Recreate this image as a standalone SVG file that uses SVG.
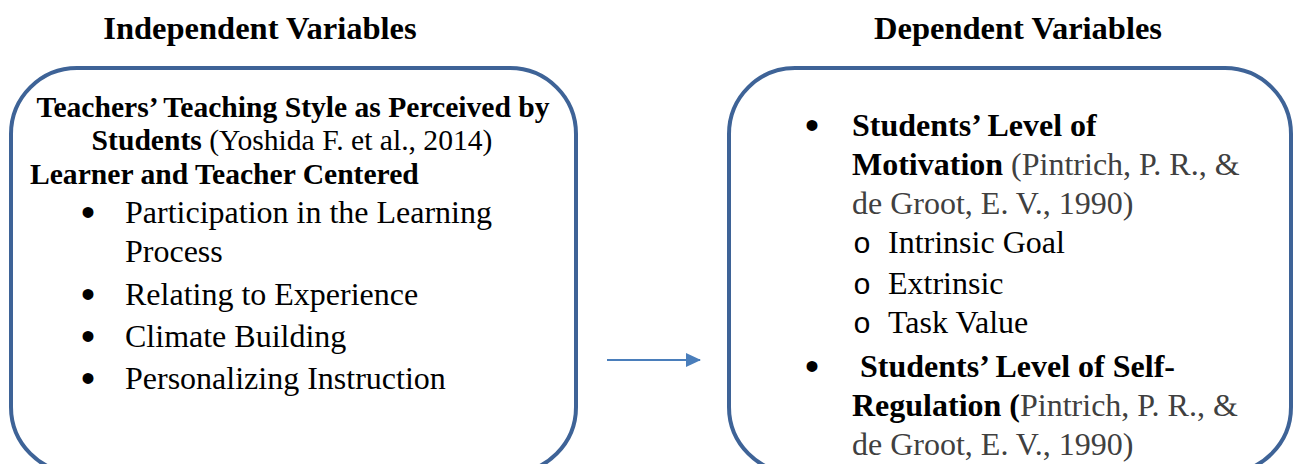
<svg xmlns="http://www.w3.org/2000/svg" width="1303" height="464" viewBox="0 0 1303 464">
<defs>
<style>
text{font-family:"Liberation Serif","Times New Roman",serif;font-size:32px;fill:#000}
.b{font-weight:bold}
.s{font-size:29.6px}
.g{fill:#404040}
.h{font-size:32.5px;font-weight:bold;text-anchor:middle}
.box{fill:none;stroke:#3e6397;stroke-width:4}
.blt{font-family:"Liberation Sans",Arial,sans-serif;font-size:40px}
.sub{font-family:"Liberation Mono","Courier New",monospace;font-size:30px}
</style>
<marker id="ah" markerWidth="15" markerHeight="14" refX="14" refY="7" orient="auto" markerUnits="userSpaceOnUse" viewBox="0 0 15 14">
<path d="M0,0 L15,7 L0,14 z" fill="#4a7ebb"/>
</marker>
</defs>
<rect width="1303" height="464" fill="#fff"/>
<g id="titles">
<text class="h" x="260" y="39">Independent Variables</text>
<text class="h" x="1018" y="39">Dependent Variables</text>
</g>
<g id="connectors">
<line x1="607" y1="360" x2="700" y2="360" stroke="#4a7ebb" stroke-width="2" marker-end="url(#ah)"/>
</g>
<g id="independent">
<rect class="box" x="11" y="68" width="565" height="405" rx="66" ry="66"/>
<text class="b s" x="293" y="117" text-anchor="middle">Teachers’ Teaching Style as Perceived by</text>
<text class="s" x="292" y="150" text-anchor="middle"><tspan class="b">Students</tspan> (Yoshida F. et al., 2014)</text>
<text class="b s" x="30" y="184">Learner and Teacher Centered</text>
<text class="blt" x="81" y="226">•</text>
<text x="125" y="223">Participation in the Learning</text>
<text x="125" y="262">Process</text>
<text class="blt" x="81" y="308">•</text>
<text x="125" y="305">Relating to Experience</text>
<text class="blt" x="81" y="350">•</text>
<text x="125" y="347">Climate Building</text>
<text class="blt" x="81" y="392">•</text>
<text x="125" y="389">Personalizing Instruction</text>
</g>
<g id="dependent">
<rect class="box" x="729" y="68" width="562" height="405" rx="66" ry="66"/>
<text class="blt" x="805" y="139">•</text>
<text class="b" x="852" y="136">Students’ Level of</text>
<text x="852" y="175"><tspan class="b">Motivation</tspan> <tspan class="g">(Pintrich, P. R., &amp;</tspan></text>
<text class="g" x="852" y="214">de Groot, E. V., 1990)</text>
<text class="sub" x="853" y="253">o</text>
<text x="888" y="253">Intrinsic Goal</text>
<text class="sub" x="853" y="294">o</text>
<text x="888" y="294">Extrinsic</text>
<text class="sub" x="853" y="333">o</text>
<text x="888" y="333">Task Value</text>
<text class="blt" x="805" y="380">•</text>
<text class="b" x="860" y="377">Students’ Level of Self-</text>
<text x="852" y="416"><tspan class="b">Regulation (</tspan><tspan class="g">Pintrich, P. R., &amp;</tspan></text>
<text class="g" x="852" y="455">de Groot, E. V., 1990)</text>
</g>
</svg>
